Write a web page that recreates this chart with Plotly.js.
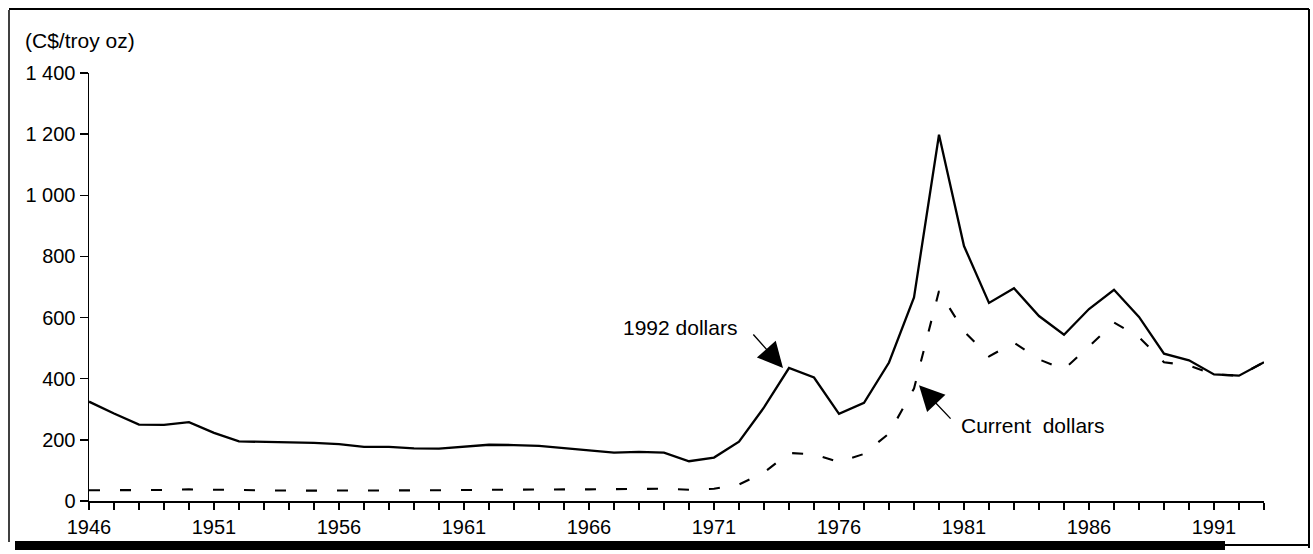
<!DOCTYPE html>
<html>
<head>
<meta charset="utf-8">
<script src="https://cdn.plot.ly/plotly-3.0.1.min.js"></script>
<style>
html,body{margin:0;padding:0;background:#fff;}
#chart{width:1313px;height:554px;}
</style>
</head>
<body>
<div id="chart"></div>
<script>
// ---- data ----
const years = [1946,1947,1948,1949,1950,1951,1952,1953,1954,1955,1956,1957,1958,1959,1960,
  1961,1962,1963,1964,1965,1966,1967,1968,1969,1970,1971,1972,1973,1974,1975,1976,1977,
  1978,1979,1980,1981,1982,1983,1984,1985,1986,1987,1988,1989,1990,1991,1992,1993];
const dollars1992 = [325,286,250,249,258,223,195,194,191,190,186,177,177,172,171,
  177,184,183,180,173,166,158,161,158,130,142,194,306,435,404,285,321,
  453,666,1198,834,648,696,605,544,628,691,602,482,460,414,410,454];
const currentDollars = [35,35,35,36,38,37,34,34,34,34,34,33,34,34,35,
  36,37,38,38,38,38,38,38,40,37,40,54,93,157,153,127,154,
  221,368,687,555,473,518,463,431,505,584,536,454,443,414,410,454];
const xTickVals = [1946,1951,1956,1961,1966,1971,1976,1981,1986,1991];
const xTickText = ['1946','1951','1956','1961','1966','1971','1976','1981','1986','1991'];
const yTickVals = [0,200,400,600,800,1000,1200,1400];
const yTickText = ['0','200','400','600','800','1 000','1 200','1 400'];
const yUnitLabel = '(C$/troy oz)';
const label1992 = '1992 dollars';
const labelCurrent = 'Current\u00a0 dollars';

// ---- layout geometry (pixels) ----
const W = 1313, H = 554;
const M = {l: 89, r: 49, t: 73, b: 53};
const PW = W - M.l - M.r, PH = H - M.t - M.b;
const px2x = px => (px - M.l) / PW;          // pixel -> paper x
const py2y = py => (H - M.b - py) / PH;      // pixel -> paper y

const FONT = 'Liberation Sans, Arial, Helvetica, sans-serif';

const traces = [
  {x: years, y: dollars1992, type: 'scatter', mode: 'lines', name: label1992,
   line: {color: '#000', width: 2.3}, hoverinfo: 'skip'},
  {x: years, y: currentDollars, type: 'scatter', mode: 'lines', name: 'Current dollars',
   line: {color: '#000', width: 2.1, dash: '11px,20px'}, hoverinfo: 'skip'}
];

const layout = {
  width: W, height: H,
  margin: {l: M.l, r: M.r, t: M.t, b: M.b, pad: 0},
  paper_bgcolor: '#fff', plot_bgcolor: '#fff',
  showlegend: false,
  font: {family: FONT, size: 20, color: '#000'},
  xaxis: {
    range: [1946, 1993], tickvals: xTickVals, ticktext: xTickText,
    ticks: 'outside', ticklen: 7, tickwidth: 1.5, tickcolor: '#000',
    showline: true, linecolor: '#000', linewidth: 1.5,
    showgrid: false, zeroline: false, fixedrange: true,
    tickfont: {family: FONT, size: 20, color: '#000'},
    minor: {tickvals: years, ticks: 'outside', ticklen: 7, tickwidth: 1.5,
            tickcolor: '#000', showgrid: false}
  },
  yaxis: {
    range: [0, 1400], tickvals: yTickVals, ticktext: yTickText,
    ticks: 'outside', ticklen: 8, tickwidth: 1.5, tickcolor: '#000',
    showline: true, linecolor: '#000', linewidth: 1.5,
    showgrid: false, zeroline: false, fixedrange: true,
    tickfont: {family: FONT, size: 20, color: '#000'}
  },
  annotations: [
    {xref: 'paper', yref: 'paper', x: px2x(23), y: py2y(40), xanchor: 'left', yanchor: 'middle',
     text: yUnitLabel, showarrow: false, font: {family: FONT, size: 21, color: '#000'}},
    {xref: 'x', yref: 'y', x: 1969.64, y: 566, xanchor: 'center', yanchor: 'middle',
     text: label1992, showarrow: false, font: {family: FONT, size: 21, color: '#000'}},
    {xref: 'x', yref: 'y', x: 1983.76, y: 247, xanchor: 'center', yanchor: 'middle',
     text: labelCurrent, showarrow: false, font: {family: FONT, size: 21, color: '#000'}},
    {xref: 'x', yref: 'y', x: 1973.76, y: 435, text: '', showarrow: true,
     ax: -31, ay: -35, arrowhead: 2, arrowsize: 3.6, arrowwidth: 1.4, arrowcolor: '#000'},
    {xref: 'x', yref: 'y', x: 1979.2, y: 379, text: '', showarrow: true,
     ax: 33, ay: 35, arrowhead: 2, arrowsize: 3.6, arrowwidth: 1.4, arrowcolor: '#000'}
  ],
  shapes: [
    // outer frame
    {type: 'line', xref: 'paper', yref: 'paper', x0: px2x(9), x1: px2x(9), y0: py2y(10), y1: py2y(542),
     line: {color: '#000', width: 1.5}},
    {type: 'line', xref: 'paper', yref: 'paper', x0: px2x(9), x1: px2x(1309), y0: py2y(9), y1: py2y(9),
     line: {color: '#000', width: 2}},
    {type: 'line', xref: 'paper', yref: 'paper', x0: px2x(1309), x1: px2x(1309), y0: py2y(9), y1: py2y(548),
     line: {color: '#000', width: 2}},
    {type: 'rect', xref: 'paper', yref: 'paper', x0: px2x(15), x1: px2x(1225), y0: py2y(541), y1: py2y(550),
     line: {width: 0}, fillcolor: '#000'},
    {type: 'line', xref: 'paper', yref: 'paper', x0: px2x(1225), x1: px2x(1309), y0: py2y(545), y1: py2y(545),
     line: {color: '#000', width: 2}}
  ]
};

Plotly.newPlot('chart', traces, layout, {staticPlot: true, displayModeBar: false});
</script>
</body>
</html>
